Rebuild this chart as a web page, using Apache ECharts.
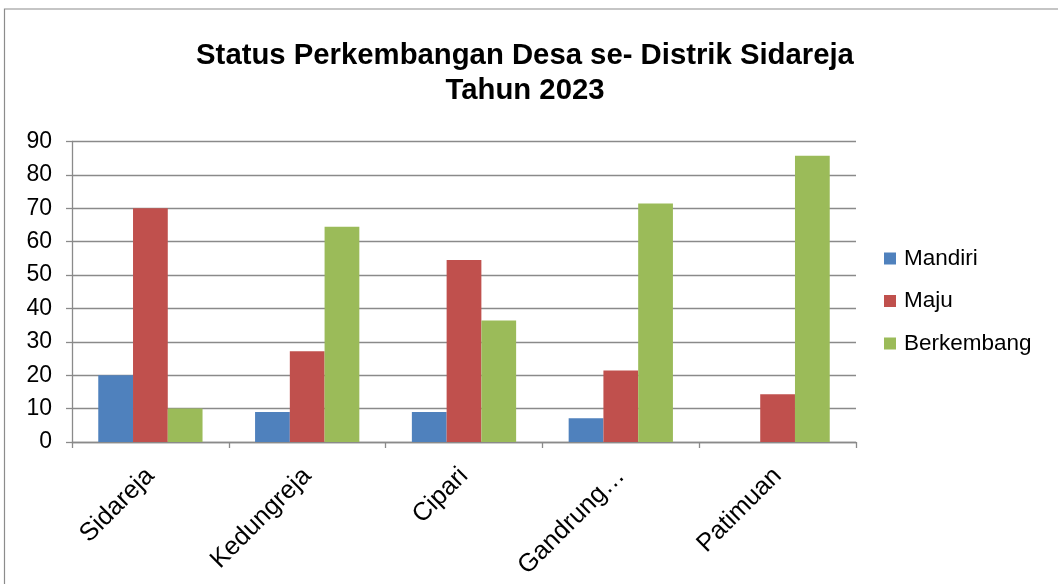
<!DOCTYPE html>
<html>
<head>
<meta charset="utf-8">
<title>Status Perkembangan Desa se- Distrik Sidareja Tahun 2023</title>
<script src="https://cdn.jsdelivr.net/npm/echarts@6/dist/echarts.min.js"></script>
<style>
  html, body { margin: 0; padding: 0; background: #ffffff; }
  #chart { width: 1058px; height: 584px; }
</style>
</head>
<body>
<div id="chart"></div>
<script>
// Districts and share of villages (%) per development status
const districts = ['Sidareja', 'Kedungreja', 'Cipari', 'Gandrungmangu', 'Patimuan'];
const mandiri = [20, 9, 9, 7.1, 0];
const maju = [70, 27.2, 54.5, 21.4, 14.3];
const berkembang = [10, 64.5, 36.4, 71.4, 85.7];
const yTicks = [0, 10, 20, 30, 40, 50, 60, 70, 80, 90];

const FONT = '"Liberation Sans", Arial, sans-serif';
const GRID_GREY = '#8a8a8a';

const chart = echarts.init(document.getElementById('chart'), null, { renderer: 'canvas' });

function barSeries(name, data, color) {
  return {
    name: name,
    type: 'bar',
    data: data,
    barGap: '0%',
    barCategoryGap: '33.5%',
    itemStyle: { color: color },
    emphasis: { disabled: true }
  };
}

chart.setOption({
  animation: false,
  backgroundColor: '#ffffff',
  graphic: [{
    type: 'rect',
    shape: { x: 4.5, y: 9, width: 1100, height: 620 },
    style: { fill: 'none', stroke: '#8c8c8c', lineWidth: 1.2 },
    silent: true
  }],
  title: {
    text: 'Status Perkembangan Desa se- Distrik Sidareja\nTahun 2023',
    left: 520,
    textAlign: 'center',
    top: 33,
    textStyle: {
      fontFamily: FONT,
      fontSize: 29.3,
      fontWeight: 'bold',
      color: '#000000',
      lineHeight: 35
    }
  },
  legend: {
    orient: 'vertical',
    left: 884,
    top: 247,
    padding: 0,
    itemWidth: 12,
    itemHeight: 12,
    itemGap: 19.5,
    icon: 'rect',
    selectedMode: false,
    textStyle: { fontFamily: FONT, fontSize: 22.5, color: '#000000', padding: [0, 0, 0, 3] },
    data: ['Mandiri', 'Maju', 'Berkembang']
  },
  grid: { left: 72, right: 202, top: 141.5, bottom: 142, containLabel: false },
  xAxis: {
    type: 'category',
    data: districts,
    axisLine: { lineStyle: { color: GRID_GREY, width: 1.3 } },
    axisTick: { show: true, length: 6, lineStyle: { color: GRID_GREY, width: 1.3 } },
    axisLabel: {
      rotate: 45,
      margin: 30,
      fontFamily: FONT,
      fontSize: 25.5,
      color: '#000000',
      formatter: function (v) { return v.length > 10 ? v.slice(0, 8) + '\u2026' : v; }
    },
    splitLine: { show: false }
  },
  yAxis: {
    type: 'value',
    min: yTicks[0],
    max: yTicks[yTicks.length - 1],
    interval: 10,
    axisLine: { show: true, lineStyle: { color: GRID_GREY, width: 1.3 } },
    axisTick: { show: true, length: 6, lineStyle: { color: GRID_GREY, width: 1.3 } },
    axisLabel: { margin: 20, fontFamily: FONT, fontSize: 23, color: '#000000' },
    splitLine: { show: true, lineStyle: { color: GRID_GREY, width: 1.3 } }
  },
  series: [
    barSeries('Mandiri', mandiri, '#4F81BD'),
    barSeries('Maju', maju, '#C0504D'),
    barSeries('Berkembang', berkembang, '#9BBB59')
  ]
});
</script>
</body>
</html>
